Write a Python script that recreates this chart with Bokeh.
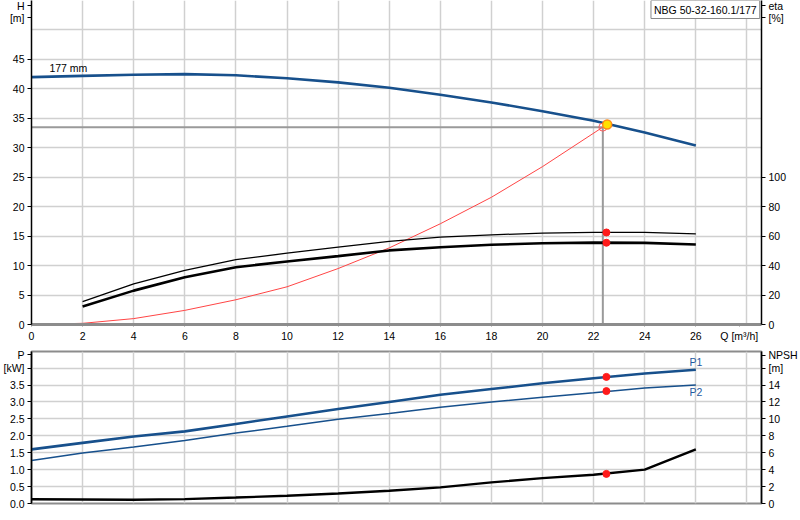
from bokeh.plotting import figure
from bokeh.models import Range1d, LinearAxis, FixedTicker, Label, PrintfTickFormatter
from bokeh.layouts import column
from bokeh.embed import file_html
from bokeh.resources import INLINE

# ---------------- data ----------------
q_head = [0, 2, 4, 6, 8, 10, 12, 14, 16, 18, 20, 22, 24, 26]
head = [42.0, 42.2, 42.4, 42.5, 42.3, 41.8, 41.1, 40.2, 39.0, 37.7, 36.2, 34.6, 32.6, 30.4]

q_eff = [2, 4, 6, 8, 10, 12, 14, 16, 18, 20, 22, 24, 26]
eta_pump = [15.6, 27.6, 36.7, 44.0, 48.4, 52.5, 56.4, 59.3, 60.9, 62.0, 62.5, 62.5, 61.6]
eta_total = [12.2, 23.0, 32.1, 38.9, 42.8, 46.4, 50.3, 52.5, 54.1, 55.2, 55.6, 55.4, 54.3]

q_sys = [0, 2, 4, 6, 8, 10, 12, 14, 16, 18, 20, 22.36]
h_sys = [0.0, 0.2, 1.0, 2.4, 4.2, 6.4, 9.5, 13.0, 17.1, 21.6, 26.8, 33.5]

q_pow = [0, 2, 4, 6, 8, 10, 12, 14, 16, 18, 20, 22, 24, 26]
p1 = [1.60, 1.79, 1.98, 2.13, 2.35, 2.57, 2.79, 3.00, 3.21, 3.38, 3.55, 3.70, 3.84, 3.95]
p2 = [1.27, 1.49, 1.67, 1.86, 2.08, 2.28, 2.49, 2.66, 2.84, 3.00, 3.14, 3.27, 3.41, 3.50]
npsh = [0.50, 0.48, 0.45, 0.52, 0.71, 0.91, 1.18, 1.50, 1.90, 2.49, 3.00, 3.40, 4.00, 6.40]

q_req, h_req = 22.36, 33.5          # required duty (gray lines)
q_duty, h_duty = 22.53, 33.96       # actual duty point (yellow)
q_mark = 22.5
eta_pump_mark, eta_total_mark = 62.5, 55.5
p1_mark, p2_mark, npsh_mark = 3.74, 3.32, 3.5

h_ticks = [0, 5, 10, 15, 20, 25, 30, 35, 40, 45]
h_grid = [0, 5, 10, 15, 20, 25, 30, 35, 40, 45, 50]
eta_ticks = [0, 20, 40, 60, 80, 100]
q_ticks = [0, 2, 4, 6, 8, 10, 12, 14, 16, 18, 20, 22, 24, 26]
q_grid = [0, 2, 4, 6, 8, 10, 12, 14, 16, 18, 20, 22, 24, 26, 28]
p_ticks = [0.0, 0.5, 1.0, 1.5, 2.0, 2.5, 3.0, 3.5]
p_grid = [0.0, 0.5, 1.0, 1.5, 2.0, 2.5, 3.0, 3.5, 4.0]
npsh_ticks = [0, 2, 4, 6, 8, 10, 12, 14]

pump_name = "NBG 50-32-160.1/177"
imp_label = "177 mm"

# axis titles, placed as extra tick labels at these axis values
h_title = {54.15: "H", 52.1: "[m]"}
eta_title = {216.6: "eta", 208.4: "[%]"}
q_title = {27.7: "Q [m³/h]"}
p_title = {4.39: "P", 4.0: "[kW]"}
npsh_title = {17.5: "NPSH", 16.0: "[m]"}

# ---------------- styles ----------------
FONT = "Liberation Sans"
FS = "10.5px"
GRID = "#d0d0d0"
BLUE = "#17508c"
AXGRAY = "#8c8c8c"
RED = "#ff1a1a"


def style_axis(ax, line_color="black", line_width=1.5):
    ax.axis_line_color = line_color
    ax.axis_line_width = line_width
    ax.major_tick_line_color = line_color
    ax.major_tick_out = 4
    ax.major_tick_in = 0
    ax.minor_tick_line_color = None
    ax.major_label_standoff = 3
    ax.major_label_text_font = FONT
    ax.major_label_text_font_size = FS
    ax.major_label_text_color = "black"


def with_titles(ax, ticks, titles):
    ax.ticker = FixedTicker(ticks=list(ticks) + list(titles.keys()))
    ax.major_label_overrides = dict(titles)


xr = Range1d(0, 28.57)

# ---------------- top chart: head / efficiency ----------------
p = figure(width=800, height=349, x_range=xr, y_range=Range1d(0, 55),
           output_backend="svg", toolbar_location=None,
           min_border_left=29, min_border_right=38, min_border_top=0, min_border_bottom=25)
p.outline_line_color = None
p.extra_y_ranges = {"eta": Range1d(0, 220)}
eta_axis = LinearAxis(y_range_name="eta")
p.add_layout(eta_axis, "right")

h_axis = p.left[0]
q_axis = p.below[0]
style_axis(h_axis)
style_axis(eta_axis)
style_axis(q_axis, AXGRAY, 3)
q_axis.major_tick_out = 2
with_titles(h_axis, h_ticks, h_title)
with_titles(eta_axis, eta_ticks, eta_title)
with_titles(q_axis, q_ticks, q_title)

p.xgrid.ticker = FixedTicker(ticks=q_grid)
p.ygrid.ticker = FixedTicker(ticks=h_grid)
p.grid.grid_line_color = GRID
p.grid.grid_line_width = 1.5

# required duty lines
p.line([0, q_req, q_req], [h_req, h_req, 0], line_color="#9a9a9a", line_width=2)
# system curve
p.line(q_sys, h_sys, line_color="#ff4545", line_width=1)
# efficiency curves
p.line(q_eff, eta_pump, y_range_name="eta", line_color="black", line_width=1.3)
p.line(q_eff, eta_total, y_range_name="eta", line_color="black", line_width=2.6)
# head curve
p.line(q_head, head, line_color=BLUE, line_width=2.6)

p.scatter([q_req], [h_req], size=8, fill_color=None, line_color="#ff5a5a", line_width=1)
p.scatter([q_mark, q_mark], [eta_pump_mark, eta_total_mark], y_range_name="eta",
          size=7, fill_color=RED, line_color=RED)
p.scatter([q_duty], [h_duty], size=9, fill_color="#ffe000", line_color="#ff8c1a", line_width=1.5)

p.add_layout(Label(x=0.7, y=43.6, text=imp_label, text_font=FONT, text_font_size=FS,
                   text_align="left", text_baseline="middle", text_color="black"))
p.add_layout(Label(x=28.5, y=55, text=pump_name, text_font=FONT, text_font_size=FS,
                   text_align="right", text_baseline="top", text_color="black",
                   border_line_color="#888888", border_line_width=1,
                   background_fill_color="white", padding=3))

# ---------------- bottom chart: power / NPSH ----------------
q = figure(width=800, height=168, x_range=xr, y_range=Range1d(0, 4.49),
           output_backend="svg", toolbar_location=None,
           min_border_left=29, min_border_right=38, min_border_top=2, min_border_bottom=14)
q.outline_line_color = AXGRAY
q.outline_line_width = 2
q.extra_y_ranges = {"npsh": Range1d(0, 17.96)}
npsh_axis = LinearAxis(y_range_name="npsh")
q.add_layout(npsh_axis, "right")
q.below[0].visible = False
q.below[0].ticker = FixedTicker(ticks=q_ticks)
p_axis = q.left[0]
style_axis(p_axis)
style_axis(npsh_axis)
p_axis.formatter = PrintfTickFormatter(format="%.1f")
with_titles(p_axis, p_ticks, p_title)
with_titles(npsh_axis, npsh_ticks, npsh_title)
q.xgrid.ticker = FixedTicker(ticks=q_grid)
q.ygrid.ticker = FixedTicker(ticks=p_grid)
q.grid.grid_line_color = GRID
q.grid.grid_line_width = 1.5

q.line(q_pow, p1, line_color=BLUE, line_width=2.6)
q.line(q_pow, p2, line_color=BLUE, line_width=1.5)
q.line(q_pow, npsh, y_range_name="npsh", line_color="black", line_width=2.4)
q.scatter([q_mark, q_mark], [p1_mark, p2_mark], size=7, fill_color=RED, line_color=RED)
q.scatter([q_mark], [npsh_mark], y_range_name="npsh", size=7, fill_color=RED, line_color=RED)

for txt, yv in (("P1", 4.17), ("P2", 3.30)):
    q.add_layout(Label(x=25.75, y=yv, text=txt, text_font=FONT, text_font_size=FS,
                       text_align="left", text_baseline="middle", text_color="#1f5aa0"))

layout = column(p, q, spacing=0)
open("out.html", "w").write(file_html(layout, INLINE))
